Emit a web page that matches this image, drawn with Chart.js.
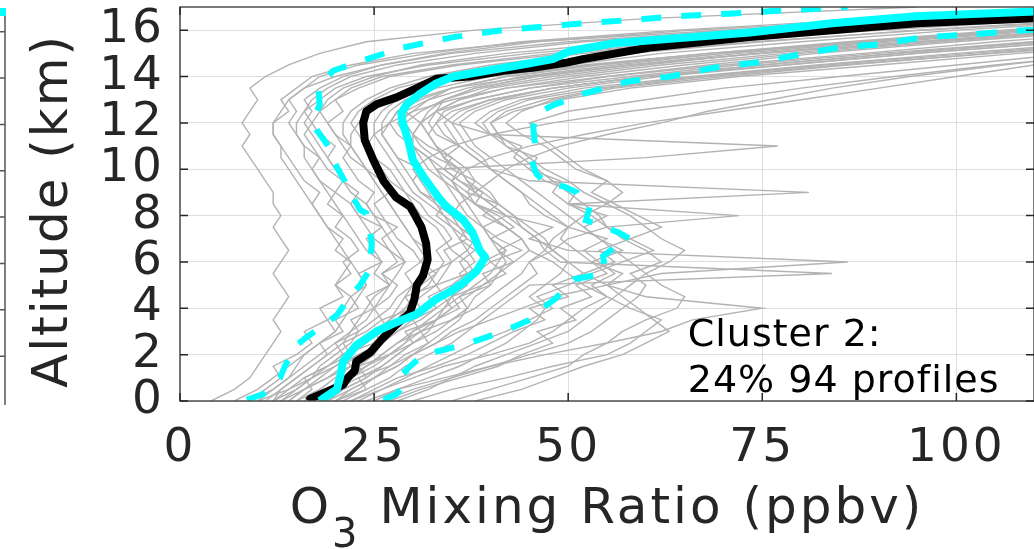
<!DOCTYPE html>
<html>
<head>
<meta charset="utf-8">
<script src="https://cdn.jsdelivr.net/npm/chart.js@4.4.1/dist/chart.umd.min.js"></script>
<style>
  html, body { margin: 0; padding: 0; background: #fff; }
</style>
</head>
<body>
<canvas id="ozoneChart" width="1034" height="549"></canvas>
<script>
// altitude grid (km) of the single gray profiles
const grayAlt = [0, 0.5, 1, 1.5, 2, 2.5, 3, 3.5, 4, 4.5, 5, 5.5, 6, 6.5, 7, 7.5, 8, 8.5,
    9, 9.5, 10, 10.5, 11, 11.5, 12, 12.5, 13, 13.5, 14, 14.5, 15, 15.5, 16, 16.5, 17];

// O3 (ppbv) of single profiles, one row per profile, on grayAlt
const grayProfiles = [
    [4, 7, 9, 10, 11, 12, 13, 12, 13, 14, 13, 12, 13, 14, 13, 12, 13, 12, 12, 11, 10, 9, 8, 9, 8, 9, 10, 9, 11, 14, 18, 24, 38, 60, 95],
    [10, 12, 14, 15, 16, 18, 20, 19, 21, 22, 20, 21, 22, 20, 21, 19, 18, 17, 18, 16, 15, 14, 13, 12, 12, 14, 13, 15, 17, 22, 30, 45, 70, 100, 130],
    [14, 16, 18, 20, 22, 21, 24, 26, 25, 27, 28, 26, 29, 27, 25, 24, 23, 22, 20, 21, 19, 18, 17, 16, 17, 16, 18, 20, 24, 32, 45, 62, 85, 115, 140],
    [16, 19, 21, 23, 25, 26, 28, 30, 31, 30, 32, 33, 31, 32, 30, 29, 28, 27, 26, 25, 24, 23, 22, 22, 23, 24, 26, 30, 38, 50, 62, 80, 100, 125, 150],
    [18, 20, 22, 24, 27, 29, 31, 33, 35, 34, 36, 38, 37, 35, 34, 33, 31, 30, 29, 27, 26, 25, 24, 25, 27, 30, 35, 42, 55, 70, 88, 105, 125, 150, 170],
    [22, 26, 30, 34, 40, 45, 48, 50, 52, 55, 53, 56, 54, 52, 55, 50, 48, 46, 44, 42, 40, 38, 36, 35, 34, 36, 40, 48, 60, 78, 95, 115, 135, 160, 180],
    [30, 35, 42, 48, 55, 58, 60, 62, 58, 55, 52, 50, 48, 45, 44, 42, 40, 38, 36, 35, 33, 32, 30, 30, 31, 33, 38, 45, 58, 72, 90, 110, 130, 150, 170],
    [20, 23, 25, 28, 30, 33, 36, 40, 44, 48, 55, 62, 86, 50, 45, 48, 42, 40, 38, 36, 34, 32, 30, 28, 27, 28, 30, 35, 45, 58, 75, 95, 115, 140, 160],
    [17, 20, 23, 26, 28, 30, 33, 35, 38, 40, 42, 44, 45, 48, 50, 55, 72, 50, 81, 45, 40, 38, 36, 34, 33, 34, 38, 45, 55, 68, 82, 100, 120, 145, 165],
    [12, 15, 17, 18, 20, 22, 23, 25, 27, 28, 30, 29, 31, 30, 28, 27, 26, 25, 27, 26, 24, 22, 21, 20, 19, 18, 20, 22, 26, 35, 48, 65, 90, 115, 140],
    [19, 21, 24, 26, 28, 30, 32, 33, 34, 35, 37, 36, 38, 37, 36, 35, 34, 33, 32, 31, 30, 32, 35, 40, 48, 58, 70, 80, 92, 105, 120, 135, 150, 170, 190],
    [15, 18, 20, 22, 24, 25, 27, 28, 29, 31, 33, 34, 35, 37, 38, 36, 35, 33, 31, 30, 29, 28, 27, 26, 26, 27, 29, 33, 40, 52, 68, 88, 108, 130, 155],
    [24, 28, 32, 36, 39, 42, 44, 46, 47, 45, 47, 49, 50, 48, 47, 45, 43, 41, 40, 38, 37, 35, 33, 32, 31, 32, 34, 38, 46, 58, 75, 95, 115, 140, 165],
    [28, 32, 35, 40, 45, 50, 53, 55, 57, 59, 60, 58, 62, 60, 57, 55, 54, 52, 50, 48, 46, 44, 42, 40, 38, 40, 44, 52, 66, 82, 100, 120, 140, 165, 185],
    [9, 12, 14, 16, 18, 20, 22, 24, 25, 26, 27, 25, 26, 24, 23, 22, 21, 20, 19, 18, 17, 16, 16, 15, 15, 16, 17, 19, 22, 28, 38, 52, 75, 105, 130],
    [21, 24, 27, 29, 32, 35, 37, 39, 41, 43, 45, 84, 49, 47, 46, 44, 42, 40, 38, 37, 36, 34, 33, 32, 33, 35, 40, 48, 60, 75, 92, 110, 130, 155, 175],
    [13, 16, 19, 21, 23, 26, 28, 31, 33, 35, 36, 38, 40, 39, 37, 36, 34, 32, 30, 29, 28, 27, 26, 25, 25, 26, 28, 31, 36, 45, 58, 75, 95, 120, 145],
    [17, 20, 22, 25, 27, 29, 30, 32, 34, 36, 38, 40, 41, 42, 40, 39, 37, 36, 35, 34, 33, 60, 77, 40, 35, 33, 34, 38, 46, 58, 72, 90, 110, 135, 160],
    [26, 30, 35, 38, 42, 46, 50, 52, 54, 56, 58, 60, 63, 65, 62, 60, 58, 55, 52, 50, 47, 45, 43, 41, 40, 42, 47, 55, 68, 85, 105, 125, 145, 170, 190],
    [11, 13, 15, 17, 19, 21, 22, 23, 24, 25, 27, 28, 29, 28, 27, 26, 25, 24, 22, 21, 20, 19, 18, 17, 16, 17, 16, 18, 21, 26, 34, 46, 66, 95, 125],
    [20, 22, 25, 27, 30, 33, 35, 38, 40, 42, 44, 46, 45, 47, 48, 50, 52, 55, 57, 55, 52, 50, 48, 46, 45, 50, 60, 70, 85, 100, 115, 130, 150, 170, 190],
    [16, 19, 21, 24, 26, 28, 30, 33, 35, 37, 39, 41, 43, 45, 44, 42, 40, 38, 36, 34, 32, 31, 30, 29, 28, 30, 32, 37, 44, 56, 70, 88, 108, 132, 158],
    [13, 15, 17, 19, 21, 23, 25, 27, 28, 29, 30, 31, 32, 31, 30, 29, 28, 27, 26, 25, 24, 23, 22, 21, 21, 22, 24, 27, 32, 40, 52, 68, 88, 112, 138],
    [35, 40, 45, 50, 52, 55, 57, 60, 64, 65, 62, 60, 58, 56, 54, 52, 50, 48, 46, 44, 42, 40, 38, 37, 36, 38, 42, 50, 62, 78, 95, 115, 135, 160, 180],
    [7, 10, 12, 14, 16, 18, 20, 21, 22, 23, 24, 23, 22, 21, 20, 19, 18, 17, 16, 15, 14, 13, 13, 12, 12, 13, 14, 16, 20, 26, 35, 50, 72, 100, 128],
    [19, 22, 25, 28, 30, 32, 34, 36, 37, 38, 40, 41, 42, 41, 40, 39, 38, 37, 36, 35, 37, 40, 45, 52, 60, 70, 80, 90, 100, 110, 125, 140, 160, 180, 200],
    [25, 28, 34, 40, 47, 55, 62, 66, 75, 60, 55, 52, 50, 48, 46, 44, 43, 41, 39, 37, 36, 34, 33, 32, 31, 33, 36, 42, 52, 65, 80, 98, 118, 142, 165],
    [12, 14, 16, 19, 22, 24, 26, 27, 29, 30, 31, 33, 34, 33, 35, 34, 32, 31, 29, 28, 27, 25, 24, 23, 22, 23, 25, 28, 34, 44, 57, 74, 96, 122, 148],
    [15, 17, 16, 19, 21, 20, 23, 22, 25, 24, 27, 26, 28, 27, 26, 28, 25, 24, 25, 23, 22, 21, 22, 20, 19, 21, 20, 23, 27, 36, 50, 66, 88, 112, 138],
    [20, 24, 23, 27, 29, 32, 31, 35, 37, 36, 40, 39, 43, 41, 44, 42, 39, 41, 37, 38, 35, 34, 36, 33, 32, 33, 36, 40, 50, 62, 78, 96, 118, 142, 166],
    [9, 11, 13, 12, 15, 17, 16, 19, 18, 21, 20, 22, 21, 23, 22, 20, 21, 19, 20, 18, 17, 18, 16, 15, 14, 15, 14, 16, 18, 23, 32, 44, 64, 90, 120],
    [27, 31, 36, 41, 44, 48, 46, 51, 49, 53, 51, 55, 53, 57, 54, 52, 55, 50, 48, 49, 45, 43, 44, 40, 39, 41, 45, 54, 67, 83, 102, 122, 142, 166, 188],
    [18, 21, 24, 23, 27, 30, 29, 33, 36, 35, 39, 42, 40, 44, 41, 39, 42, 38, 37, 35, 36, 33, 31, 30, 29, 31, 34, 39, 48, 60, 74, 92, 112, 136, 160],
    [14, 16, 19, 22, 21, 25, 27, 26, 30, 29, 33, 32, 35, 34, 37, 35, 33, 34, 31, 30, 31, 28, 27, 26, 27, 28, 31, 35, 42, 54, 70, 88, 110, 134, 158],
    [22, 25, 28, 33, 37, 40, 43, 47, 45, 50, 48, 52, 56, 54, 58, 55, 53, 50, 51, 47, 45, 46, 42, 41, 40, 43, 49, 58, 72, 90, 108, 128, 148, 172, 192],
    [12, 13, 15, 17, 19, 18, 21, 20, 23, 22, 24, 23, 26, 25, 24, 26, 23, 22, 23, 21, 20, 19, 20, 18, 17, 18, 19, 21, 25, 31, 42, 58, 80, 108, 134],
    [17, 19, 22, 24, 26, 28, 31, 30, 33, 32, 35, 37, 36, 38, 36, 37, 35, 36, 38, 40, 42, 45, 49, 55, 62, 68, 76, 84, 94, 106, 120, 138, 156, 176, 196],
    [38, 44, 48, 52, 57, 60, 63, 61, 59, 57, 55, 57, 53, 51, 49, 50, 47, 45, 44, 42, 40, 39, 37, 36, 35, 37, 41, 48, 60, 75, 93, 112, 132, 156, 178],
    [10, 14, 17, 20, 23, 26, 25, 29, 32, 34, 33, 37, 39, 42, 40, 43, 41, 38, 39, 36, 34, 35, 32, 30, 31, 29, 32, 35, 42, 53, 68, 86, 106, 130, 154],
    [23, 26, 29, 32, 35, 38, 42, 45, 48, 46, 50, 53, 57, 61, 58, 62, 59, 56, 53, 55, 51, 49, 47, 44, 42, 44, 48, 56, 70, 86, 104, 124, 146, 170, 190],
];

// cluster median (black)
const medianAlt = [0, 0.1, 0.4, 0.7, 1.0, 1.3, 1.7, 2.1, 2.7, 3.3, 3.8, 4.4, 5.0, 5.4, 6.1, 6.8, 7.5, 8.0, 8.4, 8.8,
    9.5, 10.4, 11.25, 12.0, 12.5, 12.8, 13.1, 13.5, 13.9, 14.0, 14.25, 14.4, 14.6, 14.75, 15.25, 15.7, 16.0, 16.3, 16.5, 16.8];
const medianO3 = [16.5, 16.8, 18.9, 21.0, 21.6, 22.5, 22.7, 24.5, 26.1, 27.9, 29.6, 30.2, 30.5, 31.3, 31.9, 31.7, 31.1, 30.3, 29.6, 27.8,
    26.2, 24.9, 23.8, 23.6, 24.0, 25.3, 27.9, 30.5, 33.0, 37.3, 41.6, 45.9, 49.8, 51.9, 60.5, 73.4, 84.0, 94.8, 109.4, 125];

// cluster mean (cyan, solid)
const meanAlt = [0, 0.1, 0.5, 1.0, 1.7, 2.4, 3.0, 3.4, 3.75, 4.4, 4.7, 5.1, 5.6, 6.2, 6.5, 7.25, 7.8, 8.4, 8.7, 9.1,
    9.7, 10.4, 11.25, 12.0, 12.4, 12.8, 13.25, 13.7, 14.0, 14.25, 14.5, 14.75, 15.1, 15.45, 15.9, 16.3, 16.6, 16.8, 17.0];
const meanO3 = [18.0, 18.4, 20.2, 20.6, 21.0, 22.7, 25.3, 27.9, 30.5, 33.0, 34.7, 36.5, 38.2, 39.3, 38.6, 37.7, 36.5, 34.3, 33.5, 32.6,
    31.3, 30.0, 29.4, 28.7, 28.5, 29.2, 30.9, 33.0, 35.2, 39.5, 43.8, 48.0, 50.2, 56.2, 73.4, 84.0, 94.8, 109.4, 122];

// lower percentile (cyan, dashed)
const lowAlt = [0.05, 0.3, 1.0, 1.5, 2.4, 2.75, 3.25, 3.7, 4.5, 5.0, 5.7, 6.1, 6.8, 7.25, 8.1, 8.25, 9.0, 9.5,
    10.4, 11.0, 11.7, 12.1, 12.8, 13.5, 14.25, 14.8, 15.25, 15.7, 16.0, 16.3, 16.45, 16.6, 16.7, 16.8, 16.9, 17.0];
const lowO3 = [8.6, 10.7, 12.9, 13.5, 15.0, 16.3, 18.4, 20.2, 21.9, 23.2, 24.5, 24.5, 24.7, 24.5, 24.0, 23.2, 21.9, 21.2,
    19.7, 19.1, 17.6, 17.2, 18.0, 17.8, 19.7, 24.5, 28.7, 35.2, 41.6, 52.0, 58.5, 64.0, 70.0, 75.0, 80.5, 86.0];

// upper percentile (cyan, dashed)
const highAlt = [0.05, 0.3, 1.0, 1.3, 2.0, 2.2, 2.5, 3.0, 3.5, 3.9, 4.4, 5.0, 5.25, 5.5, 5.8, 6.25, 6.5, 7.0, 7.25, 7.6,
    7.8, 8.4, 8.55, 9.0, 9.25, 9.4, 9.8, 10.7, 11.1, 11.8, 12.4, 12.8, 13.0, 13.25, 13.8, 14.0, 14.4, 14.6, 14.95, 15.25,
    15.4, 15.7, 15.8, 15.95, 16.1];
const highO3 = [26.2, 27.9, 29.6, 29.0, 31.3, 33.9, 37.3, 41.6, 45.0, 46.3, 48.3, 50.2, 50.8, 54.5, 54.7, 54.5, 55.5, 57.9, 56.6, 54.1,
    52.3, 52.8, 51.9, 51.1, 49.5, 47.2, 45.9, 45.0, 45.7, 45.5, 45.9, 48.3, 50.0, 51.9, 57.9, 63.1, 69.1, 74.2, 79.8, 84.9,
    90.5, 95.7, 101.2, 106.8, 114];

const xTicks = [0, 25, 50, 75, 100];
const yTicks = [0, 2, 4, 6, 8, 10, 12, 14, 16];

const yTitle = 'Altitude (km)';
const clusterText = ['Cluster 2:', '24% 94 profiles'];
const clusterAnchor = { x: 65.4, y: [2.37, 0.39] };

const AXIS_COLOR = '#262626';
const FONT = '"DejaVu Sans"';

function toPoints(xs, ys) {
    return xs.map((x, i) => ({ x, y: ys[i] }));
}

const datasets = grayProfiles.map(p => ({
    data: toPoints(p, grayAlt),
    borderColor: '#b3b3b3',
    borderWidth: 1.4,
    order: 10,
}));

datasets.push({ data: toPoints(medianO3, medianAlt), borderColor: '#000000', borderWidth: 8, borderJoinStyle: 'round', order: 3 });
datasets.push({ data: toPoints(meanO3, meanAlt), borderColor: '#00ffff', borderWidth: 8, borderJoinStyle: 'round', order: 2 });
datasets.push({ data: toPoints(lowO3, lowAlt), borderColor: '#00ffff', borderWidth: 6, borderDash: [20, 20], order: 1 });
datasets.push({ data: toPoints(highO3, highAlt), borderColor: '#00ffff', borderWidth: 6, borderDash: [20, 20], order: 1 });

datasets.forEach(d => { d.showLine = true; d.pointRadius = 0; d.tension = 0; });

const framePlugin = {
    id: 'frame',
    beforeDraw(chart) {
        chart.ctx.letterSpacing = '3px';
    },
    afterDraw(chart) {
        const { ctx, chartArea: a, scales: { x, y } } = chart;
        ctx.save();

        // box with inward ticks on all four sides
        ctx.strokeStyle = '#4d4d4d';
        ctx.lineWidth = 1.5;
        ctx.strokeRect(a.left, a.top, a.right - a.left, a.bottom - a.top);
        ctx.strokeStyle = AXIS_COLOR;
        const tl = 8;
        ctx.beginPath();
        xTicks.forEach(v => {
            const px = x.getPixelForValue(v);
            ctx.moveTo(px, a.bottom); ctx.lineTo(px, a.bottom - tl);
            ctx.moveTo(px, a.top); ctx.lineTo(px, a.top + tl);
        });
        yTicks.forEach(v => {
            const py = y.getPixelForValue(v);
            ctx.moveTo(a.left, py); ctx.lineTo(a.left + tl, py);
            ctx.moveTo(a.right, py); ctx.lineTo(a.right - tl, py);
        });
        ctx.stroke();

        // right edge of the neighbouring panel, cut off by the picture
        ctx.strokeStyle = '#555';
        ctx.beginPath();
        ctx.moveTo(5, a.top + 6); ctx.lineTo(5, a.bottom + 4);
        yTicks.slice(1).forEach(v => {
            const py = y.getPixelForValue(v) + 1.5;
            ctx.moveTo(0, py); ctx.lineTo(5, py);
        });
        ctx.stroke();
        ctx.fillStyle = '#00ffff';
        ctx.fillRect(0, a.top + 1, 6, 8);

        // y axis title
        ctx.fillStyle = AXIS_COLOR;
        ctx.font = '50px ' + FONT;
        ctx.letterSpacing = '2px';
        ctx.textAlign = 'center';
        ctx.textBaseline = 'alphabetic';
        ctx.save();
        ctx.translate(67, (a.top + a.bottom) / 2 + 7);
        ctx.rotate(-Math.PI / 2);
        ctx.fillText(yTitle, 0, 0);
        ctx.restore();

        // x axis title with subscript
        ctx.letterSpacing = '3px';
        ctx.textAlign = 'left';
        ctx.font = '50px ' + FONT;
        const wO = ctx.measureText('O').width;
        const rest = ' Mixing Ratio (ppbv)';
        const wRest = ctx.measureText(rest).width;
        ctx.font = '40px ' + FONT;
        const wSub = ctx.measureText('3').width;
        let tx = (a.left + a.right) / 2 - (wO + wSub + wRest) / 2;
        const base = a.bottom + 122;
        ctx.font = '50px ' + FONT;
        ctx.fillText('O', tx, base);
        tx += wO;
        ctx.font = '40px ' + FONT;
        ctx.fillText('3', tx, base + 24);
        tx += wSub;
        ctx.font = '50px ' + FONT;
        ctx.fillText(rest, tx, base);

        // cluster note
        ctx.fillStyle = '#000000';
        ctx.font = '38px ' + FONT;
        ctx.letterSpacing = '1px';
        const nx = x.getPixelForValue(clusterAnchor.x);
        clusterText.forEach((t, i) => ctx.fillText(t, nx, y.getPixelForValue(clusterAnchor.y[i])));

        ctx.restore();
        ctx.letterSpacing = '0px';
    }
};

const tickFont = { family: 'DejaVu Sans', size: 47 };

new Chart(document.getElementById('ozoneChart'), {
    type: 'scatter',
    data: { datasets },
    options: {
        responsive: false,
        animation: false,
        layout: { padding: { top: 7, right: 0, bottom: 0, left: 0 } },
        plugins: { legend: { display: false }, tooltip: { enabled: false } },
        scales: {
            x: {
                type: 'linear', min: 0, max: 110,
                afterBuildTicks: s => { s.ticks = xTicks.map(v => ({ value: v })); },
                afterFit: s => { s.height = 148; s.paddingLeft = 0; s.paddingRight = 0; },
                grid: { color: '#dedede', lineWidth: 1, drawTicks: false },
                border: { display: false },
                ticks: { font: tickFont, color: AXIS_COLOR, padding: 20, maxRotation: 0, autoSkip: false },
            },
            y: {
                type: 'linear', min: 0, max: 17,
                afterBuildTicks: s => { s.ticks = yTicks.map(v => ({ value: v })); },
                afterFit: s => { s.width = 180; s.paddingTop = 0; s.paddingBottom = 0; },
                grid: { color: '#dedede', lineWidth: 1, drawTicks: false },
                border: { display: false },
                ticks: { font: tickFont, color: AXIS_COLOR, padding: 15, autoSkip: false },
            }
        }
    },
    plugins: [framePlugin]
});
</script>
</body>
</html>
